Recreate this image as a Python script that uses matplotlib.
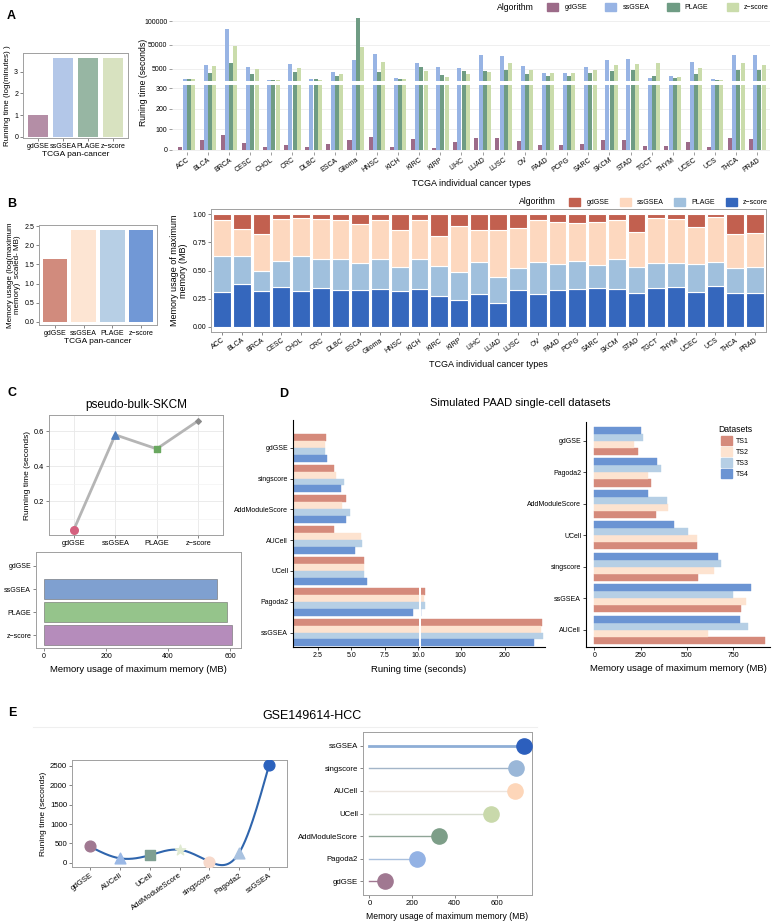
import numpy as np
import matplotlib
matplotlib.use('Agg')
import matplotlib.pyplot as plt
from matplotlib.patches import Patch
from matplotlib.lines import Line2D

plt.rcParams['font.family'] = ['Liberation Sans', 'DejaVu Sans']

# ---------------- data ----------------
algorithms = ['gdGSE', 'ssGSEA', 'PLAGE', 'z−score']
cancers = ['ACC', 'BLCA', 'BRCA', 'CESC', 'CHOL', 'CRC', 'DLBC', 'ESCA', 'Glioma', 'HNSC',
           'KICH', 'KIRC', 'KIRP', 'LIHC', 'LUAD', 'LUSC', 'OV', 'PAAD', 'PCPG', 'SARC',
           'SKCM', 'STAD', 'TGCT', 'THYM', 'UCEC', 'UCS', 'THCA', 'PRAD']

# A: running time
a_pan_time = [1.0, 3.65, 3.65, 3.65]
a_gdgse = [13, 45, 70, 32, 12, 21, 12, 25, 45, 60, 12, 53, 8, 37, 56, 56, 44, 23, 23, 29,
           45, 45, 18, 16, 39, 10, 56, 52]
a_ssgsea = [1420, 12400, 82800, 8700, 1080, 13700, 1200, 3750, 21700, 32300, 1550, 16200, 7500,
            6250, 31000, 29200, 10600, 3620, 3620, 7500, 21700, 23000, 1670, 2470, 17400, 1420,
            31000, 31000]
a_plage = [1420, 3500, 15500, 3280, 1000, 3750, 1200, 2250, 107000, 3850, 1320, 8100, 2700,
           4080, 4300, 4650, 3280, 2470, 2470, 3400, 4080, 4420, 2470, 1670, 3280, 1080, 4540, 4420]
a_zscore = [1210, 9350, 47200, 4750, 1000, 6250, 1100, 3280, 46000, 18000, 1320, 4300, 2130,
            2930, 3750, 15500, 4650, 3620, 3400, 4540, 12400, 13700, 14900, 2000, 5600, 1000,
            14900, 12400]

# B: memory (fractions of total)
b_pan_mem = [1.65, 2.4, 2.4, 2.4]
b_zscore = [0.31, 0.38, 0.315, 0.35, 0.32, 0.347, 0.326, 0.326, 0.34, 0.315, 0.34, 0.27, 0.243,
            0.288, 0.214, 0.33, 0.294, 0.33, 0.335, 0.347, 0.34, 0.305, 0.347, 0.356, 0.31, 0.36,
            0.297, 0.303]
b_plage = [0.32, 0.25, 0.185, 0.23, 0.306, 0.253, 0.274, 0.238, 0.26, 0.219, 0.265, 0.27, 0.247,
           0.287, 0.226, 0.19, 0.279, 0.225, 0.252, 0.203, 0.265, 0.229, 0.217, 0.208, 0.248,
           0.215, 0.223, 0.225]
b_ssgsea = [0.314, 0.236, 0.32, 0.38, 0.338, 0.352, 0.344, 0.346, 0.344, 0.323, 0.339, 0.27, 0.40,
            0.285, 0.417, 0.355, 0.377, 0.375, 0.33, 0.38, 0.342, 0.309, 0.403, 0.391, 0.329,
            0.398, 0.305, 0.306]
b_gdgse = [0.056, 0.134, 0.18, 0.04, 0.036, 0.048, 0.056, 0.09, 0.056, 0.143, 0.056, 0.19, 0.11,
           0.14, 0.143, 0.125, 0.05, 0.07, 0.083, 0.07, 0.053, 0.157, 0.033, 0.045, 0.113, 0.027,
           0.175, 0.166]

# C: pseudo-bulk-SKCM
c_time = [0.04, 0.58, 0.50, 0.66]
c_mem = [3, 558, 590, 606]

# D: simulated PAAD single-cell
datasets = ['TS1', 'TS2', 'TS3', 'TS4']
d_time_methods = ['gdGSE', 'singscore', 'AddModuleScore', 'AUCell', 'UCell', 'Pagoda2', 'ssGSEA']
d_time_ts1 = [3.1, 3.72, 4.58, 3.72, 5.96, 19, 285]
d_time_ts2 = [3.07, 3.85, 4.28, 5.7, 5.96, 17, 284]
d_time_ts3 = [3.05, 4.45, 4.9, 5.8, 5.96, 19, 287]
d_time_ts4 = [3.2, 4.2, 4.62, 5.3, 6.15, 9.6, 268]
d_mem_methods = ['gdGSE', 'Pagoda2', 'AddModuleScore', 'UCell', 'singscore', 'ssGSEA', 'AUCell']
d_mem_ts1 = [237, 308, 333, 553, 560, 792, 924]
d_mem_ts2 = [214, 292, 399, 553, 645, 822, 616]
d_mem_ts3 = [264, 359, 395, 507, 683, 748, 830]
d_mem_ts4 = [254, 341, 292, 431, 668, 846, 788]

# E: GSE149614-HCC
e_time_methods = ['gdGSE', 'AUCell', 'UCell', 'AddModuleScore', 'singscore', 'Pagoda2', 'ssGSEA']
e_time = [420, 115, 195, 335, 30, 260, 2525]
e_mem_methods = ['gdGSE', 'Pagoda2', 'AddModuleScore', 'UCell', 'AUCell', 'singscore', 'ssGSEA']
e_mem = [75, 223, 326, 571, 684, 688, 726]

# ---------------- styles ----------------
col_a = ['#9c6b89', '#98b4e4', '#6f9c84', '#cadcab']
col_a_light = ['#b48ea6', '#b3c7e8', '#97b6a3', '#d8e2c0']
col_b = ['#c2604f', '#fdd8bf', '#a0c0dd', '#3567bd']
col_b_light = ['#d18b7d', '#fde5d3', '#b7cfe5', '#7198d6']
col_ts = ['#d58a7b', '#fde3d0', '#b6cfe5', '#6b94d3']
TICK = 5

W, H = 776, 922
fig = plt.figure(figsize=(W / 100, H / 100), dpi=100)


def add_ax(l, t, r, b):
    return fig.add_axes([l / W, 1 - b / H, (r - l) / W, (b - t) / H])


def box(ax, color='#a0a0a0', size=TICK):
    for s in ax.spines.values():
        s.set_color(color)
        s.set_linewidth(0.7)
    ax.tick_params(length=2, width=0.5, color='#555555', labelsize=size, pad=1.5)


def classic(ax, sides=('left', 'bottom')):
    for k, s in ax.spines.items():
        s.set_visible(k in sides)
        s.set_linewidth(0.8)
    ax.tick_params(length=2, width=0.5, labelsize=TICK, pad=1.5)


def ftext(x, y, s, **kw):
    fig.text(x / W, 1 - y / H, s, **kw)


for lab, (x, y) in zip('ABCDE', [(11, 16), (12, 204), (12, 393), (284, 394), (12, 713)]):
    ftext(x, y, lab, fontsize=9, fontweight='bold', ha='center', va='center')

# ---------------- A ----------------
ax = add_ax(23, 53, 128, 138)
ax.bar(range(4), a_pan_time, width=0.8, color=col_a_light)
ax.set_xlim(-0.6, 3.6)
ax.set_ylim(-0.06, 3.86)
ax.set_yticks([0, 1, 2, 3])
ax.set_xticks(range(4), algorithms)
ax.set_ylabel('Running time (log(minutes) )', fontsize=5.8, labelpad=2)
ax.set_xlabel('TCGA pan-cancer', fontsize=6, labelpad=1)
box(ax)

anch_v = [0, 5000, 50000, 100000, 150000]
anch_u = [-0.6, 0, 1, 2, 3]
fwd = lambda v: np.interp(v, anch_v, anch_u)
inv = lambda u: np.interp(u, anch_u, anch_v)

x = np.arange(len(cancers))
offs = [-0.3, -0.1, 0.1, 0.3]
series_a = [a_gdgse, a_ssgsea, a_plage, a_zscore]

au = add_ax(172, 13, 770, 81)
al = add_ax(172, 85, 770, 152)
for axx in (au, al):
    for vals, c, o in zip(series_a, col_a, offs):
        axx.bar(x + o, vals, width=0.19, color=c)
    axx.set_xlim(-0.7, 27.6)
    for s in axx.spines.values():
        s.set_visible(False)
    axx.yaxis.grid(True, color='#ededed', lw=0.6)
    axx.set_axisbelow(True)
    axx.tick_params(length=2, width=0.5, color='#777777', labelsize=TICK, pad=1.2)
au.set_yscale('function', functions=(fwd, inv))
au.set_ylim(650, 117000)
au.set_yticks([5000, 50000, 100000], ['5000', '50000', '100000'])
au.set_xticks([])
al.set_ylim(-12, 315)
al.set_yticks([0, 100, 200, 300])
al.set_xticks(x, cancers, rotation=35, ha='right', rotation_mode='anchor')
al.set_xlabel('TCGA individual cancer types', fontsize=6.5, labelpad=3)
ftext(143, 82, 'Runing time (seconds)', rotation=90, fontsize=6.2, ha='center', va='center')

ftext(515, 7, 'Algorithm', fontsize=6.2, ha='center', va='center')
fig.legend([Patch(color=c) for c in col_a], algorithms, ncol=4, loc='center left',
           bbox_to_anchor=(547 / W, 1 - 7 / H), frameon=False, fontsize=TICK,
           handlelength=1.6, handleheight=1.6, columnspacing=2.6, handletextpad=0.9,
           borderpad=0, borderaxespad=0)

# ---------------- B ----------------
ax = add_ax(39, 225, 157, 325)
ax.bar(range(4), b_pan_mem, width=0.85, color=col_b_light)
ax.set_xlim(-0.55, 3.55)
ax.set_ylim(-0.08, 2.53)
ax.set_yticks([0, 0.5, 1.0, 1.5, 2.0, 2.5])
ax.set_xticks(range(4), algorithms)
ax.set_ylabel('Memory usage (log(maximum\nmemory)  scaled- MB)', fontsize=5.8, labelpad=2,
              linespacing=1.0)
ax.set_xlabel('TCGA pan-cancer', fontsize=6, labelpad=1)
box(ax)

ax = add_ax(211, 209, 766, 332)
bottom = np.zeros(len(cancers))
for vals, c in zip([b_zscore, b_plage, b_ssgsea, b_gdgse], col_b[::-1]):
    ax.bar(x, vals, bottom=bottom, width=0.9, color=c, edgecolor='white', linewidth=0.8)
    bottom += np.array(vals)
ax.set_xlim(-0.56, 27.56)
ax.set_ylim(-0.045, 1.045)
ax.set_yticks([0, 0.25, 0.5, 0.75, 1.0], ['0.00', '0.25', '0.50', '0.75', '1.00'])
ax.set_xticks(x, cancers, rotation=35, ha='right', rotation_mode='anchor')
ax.set_ylabel('Memory usage of maximum\nmemory (MB)', fontsize=6.5, labelpad=3, linespacing=1.0)
ax.set_xlabel('TCGA individual cancer types', fontsize=6.5, labelpad=3)
box(ax)

ftext(537, 202, 'Algorithm', fontsize=6.2, ha='center', va='center')
fig.legend([Patch(color=c) for c in col_b], algorithms, ncol=4, loc='center left',
           bbox_to_anchor=(569 / W, 1 - 202 / H), frameon=False, fontsize=TICK,
           handlelength=1.6, handleheight=1.6, columnspacing=1.5, handletextpad=0.9,
           borderpad=0, borderaxespad=0)

# ---------------- C ----------------
ax = add_ax(49, 415, 223, 535)
ax.plot(range(4), c_time, color='#b5b5b5', lw=2, zorder=2)
c_marks = [('o', '#d4607e', 30), ('^', '#4f7fbe', 28), ('s', '#6aa860', 24), ('D', '#8a8a8a', 8)]
for i, (m, c, s) in enumerate(c_marks):
    ax.scatter(i, c_time[i], marker=m, color=c, s=s, zorder=3)
ax.set_xlim(-0.6, 3.6)
ax.set_ylim(0.009, 0.693)
ax.set_yticks([0.2, 0.4, 0.6])
ax.set_yticks([0.1, 0.3, 0.5], minor=True)
ax.set_xticks(range(4), ['gdGSE', 'ssGSEA', 'PLAGE', 'z−score'])
ax.grid(True, which='major', color='#e8e8e8', lw=0.6)
ax.grid(True, which='minor', axis='y', color='#f3f3f3', lw=0.5)
ax.tick_params(which='minor', length=0)
ax.set_axisbelow(True)
ax.set_ylabel('Running time (seconds)', fontsize=6, labelpad=2)
ax.set_title('pseudo-bulk-SKCM', fontsize=8.5, pad=5)
box(ax, size=5.3)

ax = add_ax(36, 552, 241, 648)
c_bar_cols = ['#ffffff', '#7fa0d0', '#95c48b', '#b58cbb']
c_bar_edges = ['none', '#6a6a6a', '#6a6a6a', '#6a6a6a']
ypos = [3, 2, 1, 0]
for i in range(4):
    ax.barh(ypos[i], c_mem[i], height=0.85, color=c_bar_cols[i], edgecolor=c_bar_edges[i], lw=0.4)
ax.set_yticks(ypos, ['gdGSE', 'ssGSEA', 'PLAGE', 'z−score'])
ax.set_ylim(-0.55, 3.6)
ax.set_xlim(-26, 635)
ax.set_xticks([0, 200, 400, 600])
ax.set_xlabel('Memory usage of maximum memory (MB)', fontsize=6.8, labelpad=4)
box(ax)

# ---------------- D ----------------
ftext(520, 403, 'Simulated PAAD single-cell datasets', fontsize=8, ha='center', va='center')
bh = 0.225
n = len(d_time_methods)
yc = np.arange(n)[::-1]
time_series = [d_time_ts1, d_time_ts2, d_time_ts3, d_time_ts4]
dl = add_ax(293, 420, 419, 647)
dr = add_ax(421, 420, 545, 647)
for axx in (dl, dr):
    for k, (vals, c) in enumerate(zip(time_series, col_ts)):
        axx.barh(yc + (1.5 - k) * bh, vals, height=bh, color=c, edgecolor=c, lw=0.3)
    axx.set_ylim(-0.47, 6.9)
dl.set_xlim(0.65, 10.05)
dl.set_xticks([2.5, 5.0, 7.5, 10.0], ['2.5', '5.0', '7.5', '10.0'])
dl.set_yticks(yc, d_time_methods)
classic(dl)
dr.set_xlim(10, 292)
dr.set_xticks([100, 200])
dr.set_yticks([])
classic(dr, sides=('bottom',))
ftext(419, 670, 'Runing time (seconds)', fontsize=6.8, ha='center', va='center')

ax = add_ax(586, 422, 770, 647)
mem_series = [d_mem_ts1, d_mem_ts2, d_mem_ts3, d_mem_ts4]
for k, (vals, c) in enumerate(zip(mem_series, col_ts)):
    ax.barh(yc + (k - 1.5) * bh, vals, height=bh, color=c, edgecolor=c, lw=0.3)
ax.set_ylim(-0.55, 6.6)
ax.set_xlim(-45, 950)
ax.set_xticks([0, 250, 500, 750])
ax.set_yticks(yc, d_mem_methods)
ax.set_xlabel('Memory usage of maximum memory (MB)', fontsize=6.8, labelpad=4)
classic(ax)
fig.legend([Patch(color=c) for c in col_ts], datasets, title='Datasets', loc='upper left',
           bbox_to_anchor=(718 / W, 1 - 425 / H), frameon=False, fontsize=TICK,
           title_fontsize=6.2, handlelength=1.6, handleheight=1.6, labelspacing=0.3,
           handletextpad=0.6, borderpad=0, borderaxespad=0)

# ---------------- E ----------------
ftext(312, 716, 'GSE149614-HCC', fontsize=9, ha='center', va='center')
fig.add_artist(Line2D([33 / W, 537 / W], [1 - 727 / H] * 2, color='#efefef', lw=0.8))


def natural_spline(xk, yk, xs):
    xk = np.asarray(xk, float)
    yk = np.asarray(yk, float)
    m = len(xk)
    h = np.diff(xk)
    A = np.zeros((m, m))
    r = np.zeros(m)
    A[0, 0] = A[-1, -1] = 1
    for i in range(1, m - 1):
        A[i, i - 1] = h[i - 1]
        A[i, i] = 2 * (h[i - 1] + h[i])
        A[i, i + 1] = h[i]
        r[i] = 3 * ((yk[i + 1] - yk[i]) / h[i] - (yk[i] - yk[i - 1]) / h[i - 1])
    c = np.linalg.solve(A, r)
    b = (yk[1:] - yk[:-1]) / h - h * (2 * c[:-1] + c[1:]) / 3
    d = (c[1:] - c[:-1]) / (3 * h)
    idx = np.clip(np.searchsorted(xk, xs) - 1, 0, m - 2)
    dx = xs - xk[idx]
    return yk[idx] + b[idx] * dx + c[idx] * dx ** 2 + d[idx] * dx ** 3


ax = add_ax(72, 760, 287, 867)
ex = np.arange(len(e_time_methods))
xs = np.linspace(0, ex[-1], 300)
ax.plot(xs, natural_spline(ex, e_time, xs), color='#2f65ad', lw=1.5, zorder=2)
e_marks = [('o', '#a07891'), ('^', '#9ab8e6'), ('s', '#7f9f92'), ('*', '#e0ead2'),
           ('o', '#f7d9cb'), ('^', '#a9c2e0'), ('o', '#2c62bd')]
for i, (m, c) in enumerate(e_marks):
    ax.scatter(ex[i], e_time[i], marker=m, color=c, s=60, zorder=3)
ax.set_xlim(-0.6, 6.6)
ax.set_ylim(-110, 2655)
ax.set_yticks([0, 500, 1000, 1500, 2000, 2500])
ax.set_xticks(ex, e_time_methods, rotation=35, ha='right', rotation_mode='anchor')
ax.set_ylabel('Runing time (seconds)', fontsize=6, labelpad=2)
box(ax, size=5.6)

ax = add_ax(363, 732, 532, 895)
e_dot = ['#a07891', '#93b2e4', '#7d9e88', '#c9d9ab', '#fdd6b9', '#9ab7d8', '#2c5fbd']
e_line = ['#a07891', '#a9c0dd', '#8fa597', '#d8ddd0', '#ebe5df', '#a3b5c8', '#8eaed6']
e_lw = [1, 1, 1, 1, 1, 1, 2]
ey = np.arange(len(e_mem_methods))
for i in ey:
    ax.plot([0, e_mem[i]], [i, i], color=e_line[i], lw=e_lw[i], zorder=2)
    ax.scatter(e_mem[i], i, s=120, color=e_dot[i], zorder=3)
ax.set_xlim(-30, 763)
ax.set_ylim(-0.6, 6.6)
ax.set_xticks([0, 200, 400, 600])
ax.set_yticks(ey, e_mem_methods)
ax.set_xlabel('Memory usage of maximum memory (MB)', fontsize=6.2, labelpad=4)
box(ax, size=5.6)

fig.savefig('out.png', dpi=100)
